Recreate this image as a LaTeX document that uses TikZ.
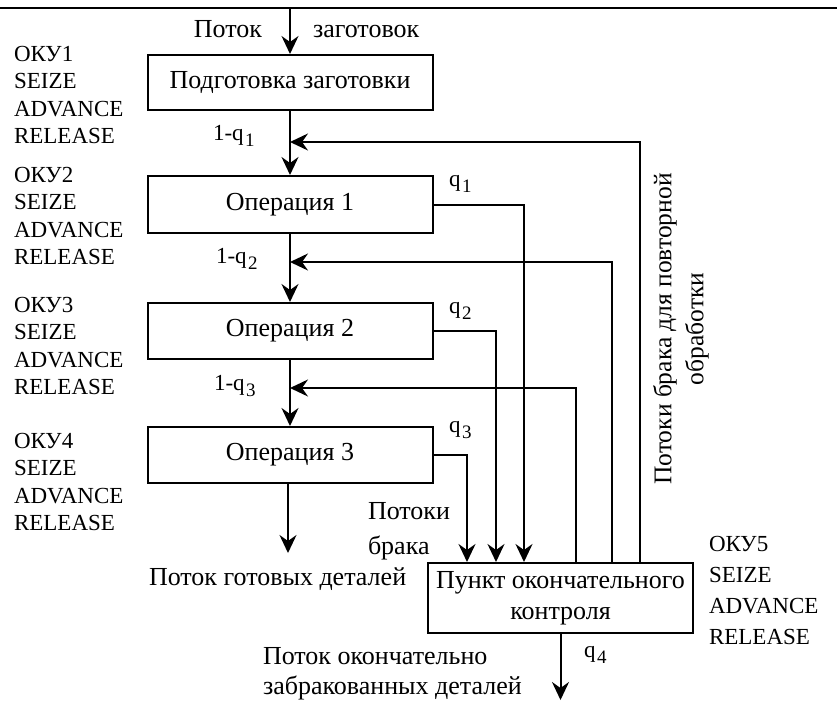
\documentclass[tikz,border=0pt]{standalone}
\usepackage{fontspec}
\setmainfont{Liberation Serif}
\usepackage{tikz}
\usetikzlibrary{arrows.meta, calc, positioning}
\newcommand{\qsub}[1]{q\kern1.5pt\raisebox{-6pt}{\fontsize{19}{19}\selectfont #1}}
\newcommand{\cyrsize}{\fontsize{26}{31}\selectfont}

\begin{document}
\begin{tikzpicture}[x=1pt, y=-1pt, line width=2pt,
    box/.style={draw, minimum width=285pt, minimum height=56pt, inner sep=0pt, font=\cyrsize},
    arr/.style={-{Stealth[length=18pt, width=17pt, inset=6pt]}},
    lbl/.style={inner sep=0pt},
    oku/.style={anchor=north west, align=left, inner sep=0pt},
    font=\fontsize{23}{27.5}\selectfont]
    \useasboundingbox (0,0) rectangle (837,702);
    % Top rule
    \draw (0,8) -- (837,8);

    % Process boxes
    \node[box, minimum height=55pt] (b0) at (290,82.5) {Подготовка заготовки};
    \node[box, minimum height=57pt] (b1) at (290,204.5) {Операция 1};
    \node[box] (b2) at (290,331) {Операция 2};
    \node[box] (b3) at (290,455) {Операция 3};
    \node[draw, minimum width=265pt, minimum height=70pt, inner sep=0pt, align=center,
          font=\cyrsize] (pk) at (560.5,598) {Пункт окончательного\\контроля};

    % Main flow
    \coordinate (src) at (290,8);
    \coordinate (done) at (288,553);
    \draw[arr] (src) -- (b0);
    \draw[arr] (b0) -- (b1);
    \draw[arr] (b1) -- (b2);
    \draw[arr] (b2) -- (b3);
    \draw[arr] (b3.south -| done) -- (done);
    \draw[arr] (pk.south) -- (pk.south |- 0,700);

    % Reject flows into final control
    \path (pk.north west) ++(40,0) coordinate (k3) ++(29,0) coordinate (k2) ++(28,0) coordinate (k1)
        ++(52,0) coordinate (r3) ++(36,0) coordinate (r2) ++(28,0) coordinate (r1);
    \draw[arr] (b1.east) -| (k1);
    \draw[arr] (b2.east) -| (k2);
    \draw[arr] (b3.east) -| (k3);

    % Rework flows back
    \coordinate (m1) at (290,142);
    \coordinate (m2) at (290,262);
    \coordinate (m3) at (290,388);
    \draw[arr] (r1) |- (m1);
    \draw[arr] (r2) |- (m2);
    \draw[arr] (r3) |- (m3);

    % Resources
    \node[oku] (oku1) at (13,45) {ОКУ1\\SEIZE\\ADVANCE\\RELEASE};
    \node[oku] (oku2) at (13,166) {ОКУ2\\SEIZE\\ADVANCE\\RELEASE};
    \node[oku] (oku3) at (13,296) {ОКУ3\\SEIZE\\ADVANCE\\RELEASE};
    \node[oku] (oku4) at (13,432) {ОКУ4\\SEIZE\\ADVANCE\\RELEASE};
    \node[oku, font=\fontsize{23}{31}\selectfont] (oku5) at (708,535) {ОКУ5\\SEIZE\\ADVANCE\\RELEASE};

    % Flow labels
    \node[lbl, anchor=base east, font=\cyrsize] (inA) at (263,37) {Поток};
    \node[lbl, anchor=base west, font=\cyrsize] (inB) at (312,37) {заготовок};
    \node[lbl, anchor=base west] (p1) at (212,140.5) {1-\qsub{1}};
    \node[lbl, anchor=base west] (p2) at (215,263.5) {1-\qsub{2}};
    \node[lbl, anchor=base west] (p3) at (213,390.5) {1-\qsub{3}};
    \node[lbl, anchor=base west] (q1) at (448,186) {\qsub{1}};
    \node[lbl, anchor=base west] (q2) at (448,313.5) {\qsub{2}};
    \node[lbl, anchor=base west] (q3) at (448,432) {\qsub{3}};
    \node[lbl, anchor=base west] (q4) at (583,657.5) {\qsub{4}};
    \node[oku, font=\fontsize{26}{35}\selectfont] (rej) at (367,501) {Потоки\\брака};
    \node[lbl, anchor=base west, font=\cyrsize] (good) at (148,585) {Поток готовых деталей};
    \node[oku, font=\fontsize{26}{30}\selectfont] (scrap) at (262,646) {Поток окончательно\\забракованных деталей};
    \node[rotate=90, align=center, inner sep=0pt, font=\fontsize{25.5}{32}\selectfont] (rework) at (681,329)
        {Потоки брака для повторной\\обработки};
\end{tikzpicture}
\end{document}
